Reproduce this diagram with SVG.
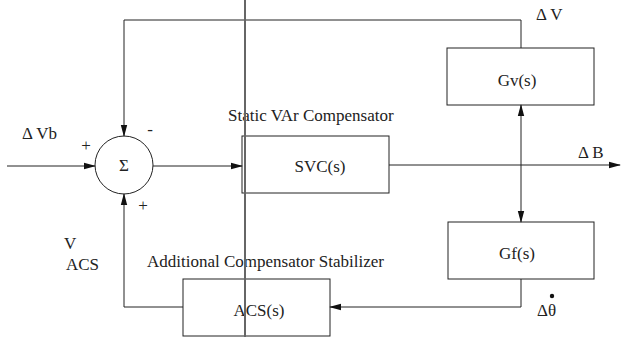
<svg xmlns="http://www.w3.org/2000/svg" width="621" height="337" viewBox="0 0 621 337">
<style>
.box{fill:none;stroke:#222;stroke-width:1}
.ln{fill:none;stroke:#222;stroke-width:1}
text{font-family:"Liberation Serif","Times New Roman",serif;fill:#222;font-size:17px}
.c{text-anchor:middle}
</style>
<defs>
<marker id="ah" markerWidth="12" markerHeight="8" refX="11" refY="4" orient="auto" markerUnits="userSpaceOnUse">
<path d="M0,0.8 L12,4 L0,7.2 Z" fill="#111"/>
</marker>
<marker id="as" markerWidth="12" markerHeight="8" refX="1" refY="4" orient="auto" markerUnits="userSpaceOnUse">
<path d="M12,0.8 L0,4 L12,7.2 Z" fill="#111"/>
</marker>
</defs>
<rect width="621" height="337" fill="#fff"/>
<g id="connectors">
<polyline class="ln" points="521,48 521,20 124,20 124,136" marker-end="url(#ah)"/>
<line class="ln" x1="7" y1="166" x2="95" y2="166" marker-end="url(#ah)"/>
<line class="ln" x1="153" y1="166" x2="242" y2="166" marker-end="url(#ah)"/>
<line class="ln" x1="389" y1="165" x2="620" y2="165" marker-end="url(#ah)"/>
<line class="ln" x1="521" y1="105" x2="521" y2="222" marker-start="url(#as)" marker-end="url(#ah)"/>
<polyline class="ln" points="521,279 521,307 330,307" marker-end="url(#ah)"/>
<polyline class="ln" points="183,307 124,307 124,194" marker-end="url(#ah)"/>
</g>
<g id="sum">
<circle cx="124" cy="165" r="29" class="box"/>
<text x="124" y="171" class="c">Σ</text>
<text x="86" y="151" class="c" font-size="16">+</text>
<text x="150" y="135" class="c" font-size="16">-</text>
<text x="143" y="211" class="c" font-size="16">+</text>
</g>
<g id="svc">
<rect x="242" y="136" width="147" height="57" class="box"/>
<text x="320" y="172" class="c">SVC(s)</text>
</g>
<g id="gv">
<rect x="447" y="48" width="147" height="57" class="box"/>
<text x="517" y="86" class="c">Gv(s)</text>
</g>
<g id="gf">
<rect x="448" y="222" width="146" height="57" class="box"/>
<text x="517" y="259" class="c">Gf(s)</text>
</g>
<g id="acs">
<rect x="183" y="279" width="147" height="57" class="box"/>
<text x="259" y="316" class="c">ACS(s)</text>
</g>
<g id="labels">
<text x="22" y="139">Δ Vb</text>
<text x="536" y="20">Δ V</text>
<text x="578" y="158">Δ B</text>
<text x="228" y="121">Static VAr Compensator</text>
<text x="147" y="267">Additional Compensator Stabilizer</text>
<text x="64" y="249" font-size="14">V</text>
<text x="66" y="270">ACS</text>
<text x="537" y="316">Δθ</text>
<circle cx="552" cy="296" r="2.2" fill="#111"/>
</g>
<line x1="245" y1="0" x2="245" y2="337" stroke="#666" stroke-width="2"/>
</svg>
